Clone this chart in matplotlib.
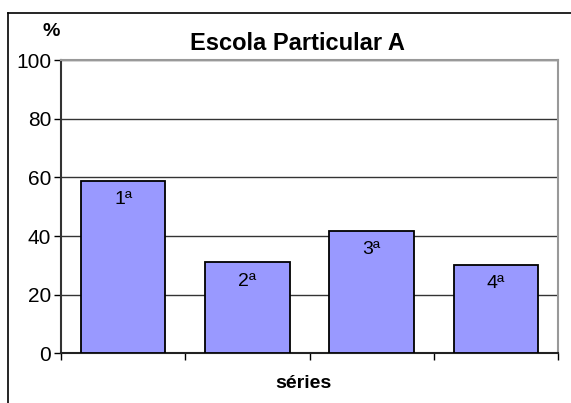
import matplotlib.pyplot as plt
from matplotlib.lines import Line2D

plt.rcParams['font.family'] = ['Liberation Sans', 'DejaVu Sans']

series_labels = ["1ª", "2ª", "3ª", "4ª"]
percentages = [58.8, 31, 41.8, 30.2]
y_ticks = [0, 20, 40, 60, 80, 100]

fig = plt.figure(figsize=(5.71, 4.03), dpi=100)
ax = fig.add_axes([61 / 571, 49.6 / 403, 497 / 571, 293.4 / 403])

x = list(range(len(percentages)))
ax.bar(x, percentages, width=0.68, color="#9999FF", edgecolor="black", linewidth=1.3, zorder=3)
for i, v in enumerate(percentages):
    ax.text(i, v - 3.5, series_labels[i], ha="center", va="top", fontsize=14, zorder=4)

ax.set_xlim(-0.5, len(percentages) - 0.5)
ax.set_ylim(0, 100)
ax.set_yticks(y_ticks)
ax.set_yticklabels([str(t) for t in y_ticks], fontsize=15)
ax.set_xticks([i - 0.5 for i in range(len(percentages) + 1)])
ax.set_xticklabels([])
ax.tick_params(axis="y", direction="out", length=5, width=1, pad=2)
ax.tick_params(axis="x", direction="out", length=5, width=1)
ax.yaxis.grid(True, color="#333333", linewidth=1, zorder=0)
ax.set_axisbelow(True)

for side in ["top", "right"]:
    ax.spines[side].set_color("#999999")
    ax.spines[side].set_linewidth(1.5)
ax.spines["left"].set_color("#333333")
ax.spines["left"].set_linewidth(1.5)
ax.spines["bottom"].set_color("#222222")
ax.spines["bottom"].set_linewidth(1.5)

fig.text(297.5 / 571, 1 - 43 / 403, "Escola Particular A", ha="center", va="center",
         fontsize=17, fontweight="bold")
fig.text(51 / 571, 1 - 31 / 403, "%", ha="center", va="center", fontsize=14, fontweight="bold")
fig.text(303 / 571, 1 - 384 / 403, "séries", ha="center", va="center", fontsize=14, fontweight="bold")

# frame around the chart
fig.add_artist(Line2D([7.5 / 571, 7.5 / 571], [0, 1 - 13 / 403], color="black", linewidth=1.2))
fig.add_artist(Line2D([7.5 / 571, 1], [1 - 13 / 403, 1 - 13 / 403], color="black", linewidth=1.2))

fig.savefig("out.png", dpi=100)
